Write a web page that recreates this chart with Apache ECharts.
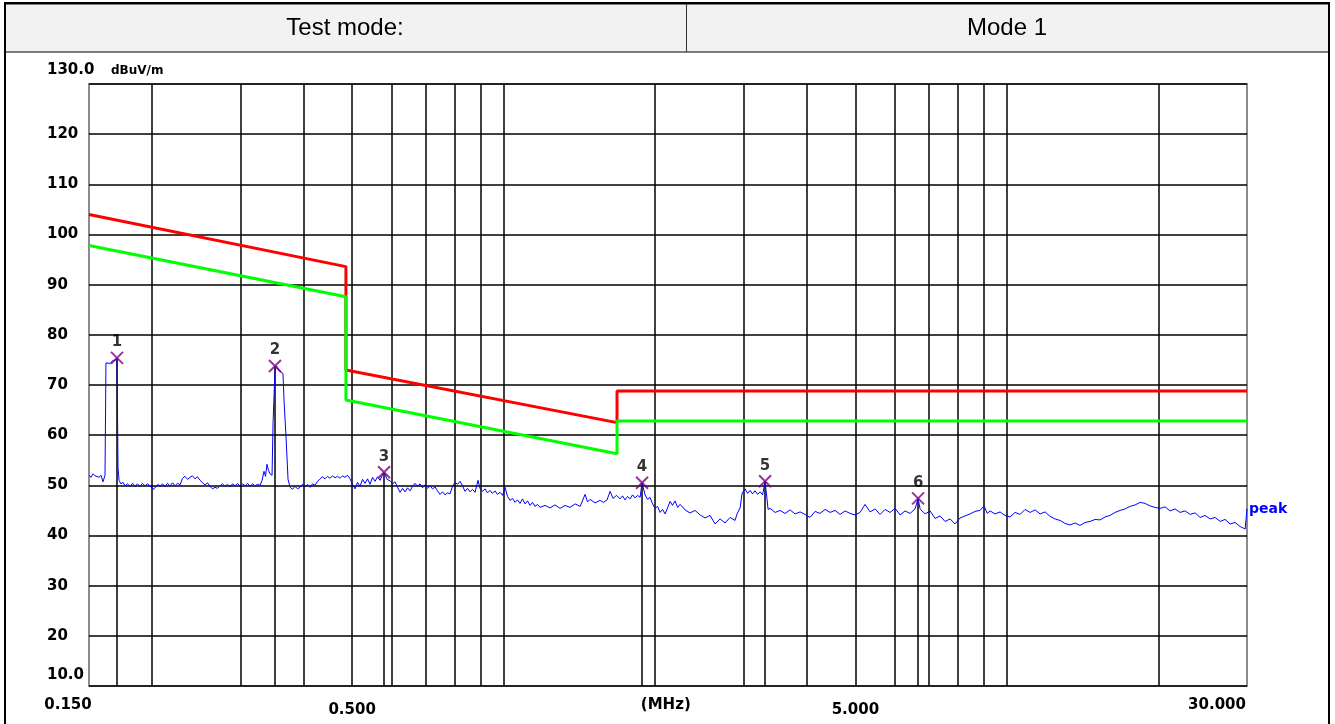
<!DOCTYPE html>
<html>
<head>
<meta charset="utf-8">
<title>Test mode: Mode 1</title>
<script src="https://cdn.jsdelivr.net/npm/echarts@6/dist/echarts.min.js"></script>
<style>
html, body { margin: 0; padding: 0; background: #fff; }
#myChart { width: 1335px; height: 724px; }
</style>
</head>
<body>
<div id="myChart"></div>
<script>
// header row
const headerCells = ['Test mode:', 'Mode 1'];

// y axis (dBuV/m)
const yMin = 10, yMax = 130, yStep = 10;
const yUnit = 'dBuV/m';

// x tick labels (MHz, log axis)
const xTickValues = [0.15, 0.5, 2.1, 5, 30];
const xTickLabels = ['0.150', '0.500', '(MHz)', '5.000', '30.000'];

// vertical grid lines (MHz)
const gridFreqs = [0.2, 0.3, 0.4, 0.5, 0.6, 0.7, 0.8, 0.9, 1, 2, 3, 4, 5, 6, 7, 8, 9, 10, 20];

// limit lines
const limitFreqs = [0.15, 0.486, 0.486, 1.68, 1.68, 30];
const redLimit = [104.0, 93.6, 73.0, 62.5, 68.8, 68.8];
const greenLimit = [97.8, 87.6, 67.0, 56.3, 62.8, 62.8];

// peak trace (MHz / dBuV/m)
const traceFreqs = [
  0.150, 0.1514, 0.1528, 0.1542, 0.1556, 0.1570, 0.1585, 0.1599, 0.1614, 0.1621,
  0.1651, 0.1674, 0.1697, 0.1705, 0.1713, 0.1721, 0.1736, 0.1752, 0.1769, 0.1789,
  0.1810, 0.1831, 0.1851, 0.1872, 0.1894, 0.1916, 0.1938, 0.1960, 0.1983, 0.2010,
  0.2038, 0.2057, 0.2076, 0.2100, 0.2124, 0.2148, 0.2173, 0.2198, 0.2223, 0.2249,
  0.2275, 0.2301, 0.2327, 0.2354, 0.2381, 0.2408, 0.2436, 0.2464, 0.2493, 0.2522,
  0.2550, 0.2580, 0.2609, 0.2639, 0.2670, 0.2701, 0.2731, 0.2763, 0.2795, 0.2827,
  0.2860, 0.2893, 0.2926, 0.2960, 0.2994, 0.3028, 0.3063, 0.3098, 0.3134, 0.3170,
  0.3206, 0.3243, 0.3281, 0.3311, 0.3341, 0.3364, 0.3387, 0.3410, 0.3434, 0.3466,
  0.3482, 0.3513, 0.3537, 0.3562, 0.3586, 0.3611, 0.3644, 0.3661, 0.3695, 0.3729,
  0.3762, 0.3805, 0.3850, 0.3894, 0.3939, 0.3984, 0.4031, 0.4077, 0.4124, 0.4171,
  0.4219, 0.4268, 0.4317, 0.4367, 0.4417, 0.4467, 0.4518, 0.4570, 0.4624, 0.4677,
  0.4731, 0.4785, 0.4840, 0.4896, 0.4952, 0.5009, 0.5067, 0.5125, 0.5184, 0.5244,
  0.5304, 0.5365, 0.5426, 0.5489, 0.5553, 0.5617, 0.5681, 0.5733, 0.5786, 0.5866,
  0.5948, 0.6016, 0.6085, 0.6155, 0.6226, 0.6297, 0.6369, 0.6442, 0.6516, 0.6591,
  0.6668, 0.6744, 0.6822, 0.6900, 0.6979, 0.7059, 0.7141, 0.7223, 0.7306, 0.7390,
  0.7474, 0.7560, 0.7648, 0.7736, 0.7824, 0.7914, 0.8005, 0.8097, 0.8191, 0.8285,
  0.8380, 0.8477, 0.8575, 0.8673, 0.8773, 0.8895, 0.8975, 0.9079, 0.9184, 0.9290,
  0.9396, 0.9504, 0.9612, 0.9723, 0.9836, 0.9949, 1.0063, 1.0179, 1.0295, 1.0414,
  1.0534, 1.0655, 1.0777, 1.0901, 1.1028, 1.1155, 1.1283, 1.1413, 1.1543, 1.1676,
  1.1811, 1.2084, 1.2362, 1.2650, 1.2945, 1.3247, 1.3555, 1.3871, 1.4194, 1.4514,
  1.4681, 1.4849, 1.5194, 1.5545, 1.5795, 1.6050, 1.6276, 1.6497, 1.6765, 1.7034,
  1.7231, 1.7430, 1.7631, 1.7833, 1.8039, 1.8248, 1.8458, 1.8668, 1.8840, 1.9100,
  1.9320, 1.9543, 1.9768, 1.9995, 2.0225, 2.0456, 2.0692, 2.0931, 2.1172, 2.1415,
  2.1662, 2.1913, 2.2165, 2.2419, 2.2940, 2.3469, 2.4011, 2.4565, 2.5134, 2.5715,
  2.6311, 2.6920, 2.7542, 2.8178, 2.8831, 2.9097, 2.9499, 2.9772, 3.0186, 3.0535,
  3.0883, 3.1238, 3.1596, 3.1962, 3.2331, 3.2702, 3.3077, 3.3228, 3.3537, 3.3846,
  3.4630, 3.5424, 3.6245, 3.7082, 3.7943, 3.8823, 3.9722, 4.0637, 4.1580, 4.2538,
  4.3524, 4.4532, 4.5565, 4.6615, 4.7697, 4.8798, 4.9929, 5.1083, 5.2260, 5.3478,
  5.4718, 5.5977, 5.7275, 5.8598, 5.9957, 6.1341, 6.2762, 6.4208, 6.5700, 6.6615,
  6.7217, 6.8781, 7.0368, 7.2002, 7.3664, 7.5360, 7.7106, 7.8890, 8.0712, 8.2590,
  8.4492, 8.6450, 8.8455, 9.010, 9.140, 9.2583, 9.4718, 9.6915, 9.9162, 10.146,
  10.381, 10.622, 10.868, 11.120, 11.378, 11.641, 11.911, 12.187, 12.470, 12.758,
  13.053, 13.351, 13.661, 13.977, 14.300, 14.632, 14.970, 15.315, 15.670, 16.035,
  16.407, 16.787, 17.176, 17.573, 17.980, 18.393, 18.820, 19.254, 19.700, 20.154,
  20.621, 21.098, 21.588, 22.088, 22.600, 23.126, 23.662, 24.210, 24.770, 25.341,
  25.930, 26.528, 27.140, 27.770, 28.410, 29.067, 29.750, 29.900, 30.000
];
const traceLevels = [
  52.0, 51.6, 52.3, 51.9, 52.2, 51.6, 52.0, 50.7, 52.0, 74.4,
  74.3, 74.9, 75.0, 75.4, 53.5, 51.0, 50.3, 50.6, 49.9, 50.3,
  49.8, 50.4, 49.7, 50.3, 49.8, 50.4, 49.9, 50.3, 49.9, 49.2,
  49.7, 50.2, 49.8, 50.3, 49.7, 50.4, 49.9, 50.5, 49.9, 50.4,
  50.1, 51.4, 51.8, 51.2, 51.6, 51.9, 51.3, 51.7, 51.0, 50.5,
  50.1, 50.5, 49.8, 49.3, 49.6, 49.4, 49.9, 50.3, 49.8, 50.2,
  49.7, 50.3, 49.9, 50.4, 49.8, 50.3, 49.9, 50.4, 49.8, 50.3,
  49.9, 50.2, 50.0, 51.0, 52.8, 51.8, 54.2, 53.0, 52.3, 52.0,
  62.5, 73.0, 73.8, 73.2, 72.8, 73.0, 72.3, 67.0, 59.6, 51.2,
  49.7, 49.2, 49.8, 49.3, 49.6, 50.2, 49.7, 50.2, 49.6, 50.3,
  50.0, 50.8, 51.3, 51.7, 51.3, 51.8, 51.4, 51.9, 51.5, 51.8,
  51.4, 51.9, 51.6, 52.0, 51.3, 50.2, 49.3, 50.6, 49.8, 51.2,
  50.4, 51.3, 50.2, 51.6, 50.8, 51.7, 51.0, 51.9, 52.6, 51.2,
  50.9, 50.3, 50.7, 49.6, 48.6, 49.4, 48.7, 49.5, 48.9, 49.8,
  50.4, 49.8, 50.3, 49.5, 50.1, 49.4, 49.9, 49.3, 49.7, 48.9,
  48.2, 48.7, 48.1, 48.5, 48.3, 49.8, 50.6, 50.2, 50.8, 49.9,
  48.8, 49.4, 48.7, 49.2, 48.6, 51.0, 49.4, 48.8, 49.3, 48.5,
  49.0, 48.4, 48.9, 48.2, 48.6, 48.0, 49.6, 47.8, 47.0, 47.4,
  46.6, 47.1, 46.4, 47.3, 46.3, 46.9, 46.0, 46.6, 45.8, 46.2,
  45.6, 46.0, 45.5, 46.1, 45.4, 46.0, 45.6, 46.3, 45.8, 48.2,
  46.7, 47.2, 46.5, 47.0, 46.6, 47.1, 48.8, 47.4, 48.0, 47.3,
  47.9, 47.1, 47.8, 47.3, 48.1, 47.5, 48.0, 47.6, 50.5, 48.1,
  47.2, 47.6, 46.3, 45.4, 45.8, 44.6, 45.2, 44.3, 45.5, 46.8,
  46.0, 46.9, 45.6, 46.2, 45.1, 44.5, 45.0, 44.1, 43.5, 44.0,
  42.3, 43.3, 42.5, 43.6, 43.0, 44.3, 45.5, 48.4, 49.3, 48.4,
  49.0, 48.3, 48.9, 48.2, 48.7, 48.1, 50.8, 49.0, 45.2, 45.4,
  44.6, 45.0, 44.4, 45.1, 44.3, 44.7, 44.2, 43.6, 44.8, 44.4,
  45.2, 44.6, 45.0, 44.2, 44.9, 44.4, 44.1, 44.6, 46.2, 44.7,
  45.3, 44.2, 45.2, 44.6, 45.4, 44.1, 44.9, 44.4, 45.3, 47.4,
  45.3, 44.3, 44.9, 43.4, 43.9, 42.8, 43.3, 42.3, 43.5, 43.9,
  44.3, 44.8, 45.0, 45.9, 44.4, 44.9, 44.3, 44.7, 44.0, 43.7,
  44.6, 44.2, 45.2, 44.6, 45.1, 44.3, 44.7, 43.8, 43.3, 43.0,
  42.4, 42.1, 42.5, 42.0, 42.6, 42.8, 43.2, 43.1, 43.7, 44.0,
  44.6, 45.0, 45.3, 45.8, 46.1, 46.6, 46.4, 45.9, 45.6, 45.4,
  45.7, 44.9, 45.3, 44.6, 44.9, 44.2, 44.5, 43.6, 44.0, 43.3,
  43.6, 42.8, 43.2, 42.3, 42.6, 41.8, 41.3, 41.0, 45.3
];

// markers
const markerNames = ['1', '2', '3', '4', '5', '6'];
const markerFreqs = [0.1705, 0.3513, 0.5786, 1.884, 3.3077, 6.6615];
const markerLevels = [75.4, 73.8, 52.6, 50.5, 50.8, 47.4];

const tickFont = { fontFamily: 'DejaVu Sans', fontWeight: 'bold', fontSize: 15, color: '#000' };

let myChart = echarts.init(document.getElementById('myChart'));

function xLabelIndex(v) {
  let best = 0;
  xTickValues.forEach((t, i) => {
    if (Math.abs(Math.log(t) - Math.log(v)) < Math.abs(Math.log(xTickValues[best]) - Math.log(v))) best = i;
  });
  return best;
}

let option = {
  animation: false,
  backgroundColor: '#fff',
  graphic: [
    { type: 'rect', shape: { x: 5, y: 4, width: 1324, height: 48 }, style: { fill: '#f2f2f2', stroke: '#000', lineWidth: 1 } },
    { type: 'line', shape: { x1: 686.5, y1: 4, x2: 686.5, y2: 52 }, style: { stroke: '#333', lineWidth: 1 } },
    { type: 'line', shape: { x1: 4, y1: 3, x2: 1330, y2: 3 }, style: { stroke: '#000', lineWidth: 2 } },
    { type: 'line', shape: { x1: 5, y1: 3, x2: 5, y2: 724 }, style: { stroke: '#000', lineWidth: 2 } },
    { type: 'line', shape: { x1: 1329, y1: 3, x2: 1329, y2: 724 }, style: { stroke: '#000', lineWidth: 2 } },
    { type: 'text', x: 345, y: 28, style: { text: headerCells[0], font: '24px "Liberation Sans"', fill: '#000', textAlign: 'center', textVerticalAlign: 'middle' } },
    { type: 'text', x: 1007, y: 28, style: { text: headerCells[1], font: '24px "Liberation Sans"', fill: '#000', textAlign: 'center', textVerticalAlign: 'middle' } }
  ],
  grid: {
    left: 89, right: 88, top: 84, bottom: 38,
    show: true, backgroundColor: '#fff', borderColor: '#8c8c8c', borderWidth: 2
  },
  xAxis: {
    type: 'log', logBase: 10, min: 0.15, max: 30,
    axisLine: { show: false }, axisTick: { show: false }, splitLine: { show: false },
    axisLabel: {
      customValues: xTickValues,
      margin: 12,
      ...tickFont,
      formatter: function (v) {
        const i = xLabelIndex(v);
        return '{s' + i + '|' + xTickLabels[i] + '}';
      },
      rich: {
        s0: { ...tickFont, padding: [0, 42, 0, 0] },
        s1: { ...tickFont, padding: [5, 0, 0, 0] },
        s2: { ...tickFont },
        s3: { ...tickFont, padding: [5, 0, 0, 0] },
        s4: { ...tickFont, padding: [0, 60, 0, 0] }
      }
    }
  },
  yAxis: {
    type: 'value', min: yMin, max: yMax, interval: yStep,
    name: yUnit, nameLocation: 'end', nameGap: 7,
    nameTextStyle: { fontFamily: 'DejaVu Sans', fontWeight: 'bold', fontSize: 12, color: '#000', align: 'left', verticalAlign: 'bottom', padding: [0, 0, 0, 22] },
    axisLine: { show: false }, axisTick: { show: false },
    splitLine: { lineStyle: { color: '#000', width: 1.5 } },
    axisLabel: {
      align: 'left', margin: 42,
      ...tickFont,
      formatter: function (v) {
        if (v === yMax) return '{top|' + v.toFixed(1) + '}';
        if (v === yMin) return '{bot|' + v.toFixed(1) + '}';
        return '{n|' + v + '}';
      },
      rich: {
        top: { ...tickFont, padding: [0, 0, 28, 0] },
        bot: { ...tickFont, padding: [0, 0, 22, 0] },
        n: { ...tickFont }
      }
    }
  },
  series: [
    {
      name: 'grid', type: 'line', data: [], z: 1, silent: true,
      markLine: {
        z: 1, silent: true, symbol: 'none', label: { show: false },
        lineStyle: { color: '#000', width: 1.5, type: 'solid' },
        data: gridFreqs.map(f => ({ xAxis: f }))
      }
    },
    {
      name: 'marker lines', type: 'line', data: [], z: 2, silent: true,
      markLine: {
        z: 2, silent: true, symbol: 'none', label: { show: false },
        lineStyle: { color: '#000', width: 1.5, type: 'solid' },
        data: markerFreqs.map((f, i) => [{ coord: [f, yMin] }, { coord: [f, markerLevels[i]] }])
      }
    },
    {
      name: 'limit', type: 'line', z: 3, symbol: 'none',
      lineStyle: { color: '#ff0000', width: 3 },
      data: limitFreqs.map((f, i) => [f, redLimit[i]])
    },
    {
      name: 'average limit', type: 'line', z: 3, symbol: 'none',
      lineStyle: { color: '#00ff00', width: 3 },
      data: limitFreqs.map((f, i) => [f, greenLimit[i]])
    },
    {
      name: 'peak', type: 'line', z: 4, symbol: 'none',
      lineStyle: { color: '#0000ff', width: 1 },
      data: traceFreqs.map((f, i) => [f, traceLevels[i]]),
      endLabel: { show: true, formatter: 'peak', distance: 2, fontFamily: 'DejaVu Sans', fontWeight: 'bold', fontSize: 14, color: '#0000ff' }
    },
    {
      name: 'markers', type: 'scatter', z: 5,
      symbol: 'path://M0 0L10 10M10 0L0 10', symbolSize: 12,
      itemStyle: { color: 'rgba(0,0,0,0)', borderColor: '#800080', borderWidth: 2 },
      label: { show: true, position: 'top', distance: 1, formatter: p => markerNames[p.dataIndex], ...tickFont, color: '#000' },
      data: markerFreqs.map((f, i) => [f, markerLevels[i]])
    }
  ]
};

myChart.setOption(option);
</script>
</body>
</html>
